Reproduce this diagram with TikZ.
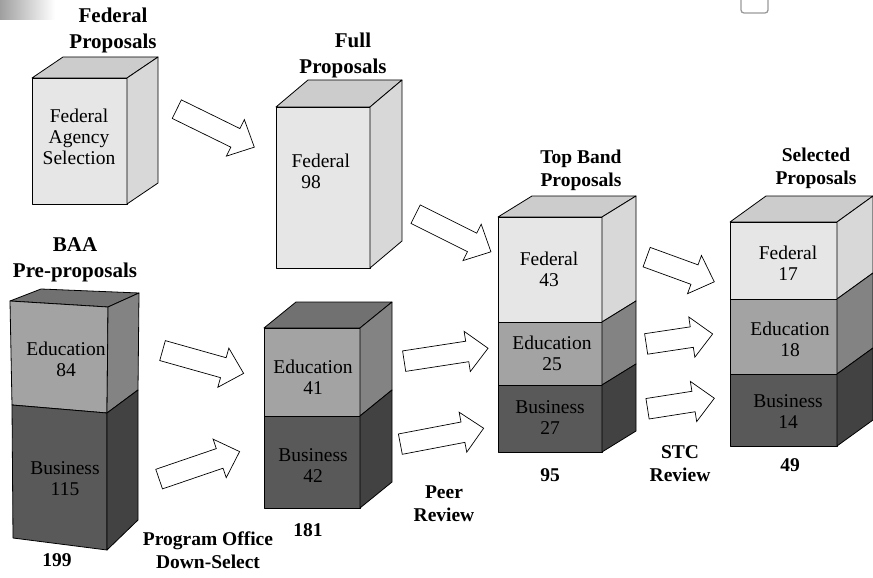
\documentclass[tikz,border=0pt]{standalone}
\usepackage{fontspec}
\setmainfont{Liberation Serif}
\usetikzlibrary{shapes.arrows,calc}

\definecolor{fedF}{HTML}{E6E6E6}
\definecolor{fedT}{HTML}{CCCCCC}
\definecolor{fedS}{HTML}{D8D8D8}
\definecolor{eduF}{HTML}{A3A3A3}
\definecolor{eduT}{HTML}{717171}
\definecolor{eduS}{HTML}{838383}
\definecolor{busF}{HTML}{595959}
\definecolor{busS}{HTML}{424242}

\tikzset{
  face/.style = {draw=black, line width=0.8pt, line join=round},
  lbl/.style = {font=\bfseries\fontsize{19.5}{23}\selectfont, align=center},
  lblbig/.style = {font=\bfseries\fontsize{21}{26}\selectfont, align=center},
  txt/.style = {font=\fontsize{19.5}{21}\selectfont, align=center},
  blockarr/.style = {single arrow, draw=black, fill=white, line width=0.7pt,
    inner sep=10pt, single arrow head extend=10pt, single arrow tip angle=88,
    anchor=tail}
}

% front + side of one layer: left x, right x, top y, bottom y, depth, fills
\newcommand{\slab}[7]{%
  \filldraw[face, fill=#6] (#1,#3) rectangle (#2,#4);
  \filldraw[face, fill=#7] (#2,#3) -- ++(#5) -- ++(0,{#4-#3}) -- (#2,#4) -- cycle;}
\newcommand{\lid}[5]{%
  \filldraw[face, fill=#5] (#1,#3) -- (#2,#3) -- ++(#4) -- ++({#1-#2},0) -- cycle;}
\newcommand{\bigarrow}[3]{%
  \path let \p1 = (#2), \p2 = (#3),
    \n1 = {atan2(\y2-\y1,\x2-\x1)}, \n2 = {veclen(\x2-\x1,\y2-\y1)} in
    node[blockarr, rotate=\n1, minimum height=\n2] (#1) at (\p1) {};}

\begin{document}
\begin{tikzpicture}[x=1pt, y=-1pt]
   \useasboundingbox (0,0) rectangle (873,578);
   \shade[left color=gray!75, right color=white] (0,0) rectangle (55,20);
   \draw[gray!80, line width=1.3pt, rounded corners=3pt] (741,-6) rectangle (768,13);

   \lid{32}{127}{78}{31,-21}{fedT}
   \slab{32}{127}{78}{204}{31,-21}{fedF}{fedS}

   \lid{276}{370}{107}{32,-27}{fedT}
   \slab{276}{370}{107}{268}{32,-27}{fedF}{fedS}

   \filldraw[face, fill=eduT] (10,301) -- (108,307) -- (139,293) -- (41,289) -- cycle;
   \filldraw[face, fill=eduF] (10,301) -- (108,307) -- (107,413) -- (12,405) -- cycle;
   \filldraw[face, fill=eduS] (108,307) -- (139,293) -- (138,390) -- (107,413) -- cycle;
   \filldraw[face, fill=busF] (12,405) -- (107,413) -- (107,550) -- (13,538) -- cycle;
   \filldraw[face, fill=busS] (107,413) -- (138,390) -- (138,520) -- (107,550) -- cycle;

   \lid{264}{360}{328}{32,-26}{eduT}
   \slab{264}{360}{328}{416}{32,-26}{eduF}{eduS}
   \slab{264}{360}{416}{508}{32,-26}{busF}{busS}

   \lid{498}{602}{217}{34,-21}{fedT}
   \slab{498}{602}{217}{322}{34,-21}{fedF}{fedS}
   \slab{498}{602}{322}{385}{34,-21}{eduF}{eduS}
   \slab{498}{602}{385}{452}{34,-21}{busF}{busS}

   \lid{730}{837}{222}{36,-26}{fedT}
   \slab{730}{837}{222}{299}{36,-26}{fedF}{fedS}
   \slab{730}{837}{299}{374}{36,-26}{eduF}{eduS}
   \slab{730}{837}{374}{446}{36,-26}{busF}{busS}

   \node[lblbig] (l_0) at (113,30) {Federal\\Proposals};
   \node[lblbig] (l_1) at (343,55) {\hspace*{20pt}Full\\Proposals};
   \node[lblbig] (l_2) at (75,260) {BAA\\Pre-proposals};
   \node[lbl] (l_3) at (581,170) {Top Band\\Proposals};
   \node[lbl] (l_4) at (816,168) {Selected\\Proposals};
   \node[lbl] (l_5) at (57,560) {199};
   \node[lbl] (l_6) at (208,550) {Program Office\\Down-Select};
   \node[lbl] (l_7) at (308,530) {181};
   \node[lbl] (l_8) at (444,504) {Peer\\Review};
   \node[lbl] (l_9) at (550,475) {95};
   \node[lbl] (l_10) at (680,464) {STC\\Review};
   \node[lbl] (l_11) at (790,465) {49};

   \node[txt] (c_0) at (79,137) {Federal\\Agency\\Selection};
   \node[txt, align=left, anchor=west] (c_1) at (288,171) {Federal\\\ \ 98};
   \node[txt] (c_2) at (66,359) {Education\\84};
   \node[txt] (c_3) at (65,479) {Business\\115};
   \node[txt] (c_4) at (313,377) {Education\\41};
   \node[txt] (c_5) at (313,466) {Business\\42};
   \node[txt] (c_6) at (549,269) {Federal\\43};
   \node[txt] (c_7) at (552,353) {Education\\25};
   \node[txt] (c_8) at (550,418) {Business\\27};
   \node[txt] (c_9) at (788,263) {Federal\\17};
   \node[txt] (c_10) at (790,339) {Education\\18};
   \node[txt] (c_11) at (788,412) {Business\\14};

   \coordinate (s_1) at (176.5,109);  \coordinate (e_1) at (254,147);
   \coordinate (s_2) at (415.3,214);  \coordinate (e_2) at (490.7,251.7);
   \coordinate (s_3) at (162.2,350.5); \coordinate (e_3) at (243.3,373.3);
   \coordinate (s_4) at (158.8,479.2); \coordinate (e_4) at (239.3,451.7);
   \coordinate (s_5) at (403.8,361.2); \coordinate (e_5) at (487.7,348.3);
   \coordinate (s_6) at (400,444.2);   \coordinate (e_6) at (483.3,428.3);
   \coordinate (s_7) at (646.3,257);   \coordinate (e_7) at (714,281.7);
   \coordinate (s_8) at (645.8,344);   \coordinate (e_8) at (712.3,334);
   \coordinate (s_9) at (647.2,408.8); \coordinate (e_9) at (714,398.3);
   \bigarrow{a_1}{s_1}{e_1}
   \bigarrow{a_2}{s_2}{e_2}
   \bigarrow{a_3}{s_3}{e_3}
   \bigarrow{a_4}{s_4}{e_4}
   \bigarrow{a_5}{s_5}{e_5}
   \bigarrow{a_6}{s_6}{e_6}
   \bigarrow{a_7}{s_7}{e_7}
   \bigarrow{a_8}{s_8}{e_8}
   \bigarrow{a_9}{s_9}{e_9}
\end{tikzpicture}
\end{document}
